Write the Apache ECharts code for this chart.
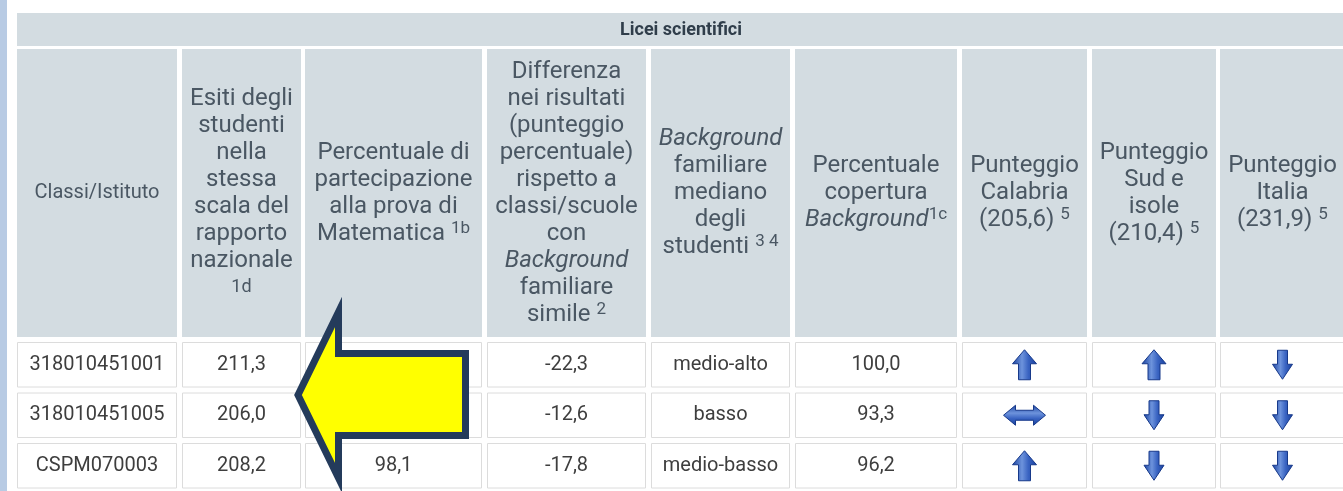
<!DOCTYPE html>
<html>
<head>
<meta charset="utf-8">
<script src="https://cdn.jsdelivr.net/npm/echarts@6/dist/echarts.min.js"></script>
<style>
  html, body { margin: 0; padding: 0; background: #fff; }
  #chart { width: 1343px; height: 491px; }
</style>
</head>
<body>
<div id="chart"></div>
<script>
// Tabella INVALSI: licei scientifici, prova di Matematica.
// Valori; le prime due percentuali di partecipazione
// sono coperte dalla freccia gialla e restano vuote.
const TITOLO = 'Licei scientifici';
const ISTITUTI = ['318010451001', '318010451005', 'CSPM070003'];
const ESITI = [211.3, 206.0, 208.2];
const PARTECIPAZIONE = [null, null, 98.1];
const DIFFERENZA = [-22.3, -12.6, -17.8];
const BACKGROUND = ['medio-alto', 'basso', 'medio-basso'];
const COPERTURA = [100.0, 93.3, 96.2];
// su = sopra, giu = sotto, pari = non significativa
const CALABRIA = ['su', 'pari', 'su'];
const SUD = ['su', 'giu', 'giu'];
const ITALIA = ['giu', 'giu', 'giu'];

const INTESTAZIONI = [
  '{c|Classi/Istituto}',
  'Esiti degli\nstudenti\nnella\nstessa\nscala del\nrapporto\nnazionale\n{n|1d}',
  'Percentuale di\npartecipazione\nalla prova di\nMatematica {s|1b}',
  'Differenza\nnei risultati\n(punteggio\npercentuale)\nrispetto a\nclassi/scuole\ncon\n{i|Background}\nfamiliare\nsimile {s|2}',
  '{i|Background}\nfamiliare\nmediano\ndegli\nstudenti {s|3 4}',
  'Percentuale\ncopertura\n{i|Background}{s|1c}',
  'Punteggio\nCalabria\n(205,6) {s|5}',
  'Punteggio\nSud e\nisole\n(210,4) {s|5}',
  'Punteggio\nItalia\n(231,9) {s|5}',
];

// ---- layout (pixel) ----------------------------------------------------
const COL_X = [[17, 177], [182, 301], [305, 482], [487, 646], [651, 790],
  [795, 957], [962, 1087], [1092, 1216], [1220, 1345]];
const FONT = 'Roboto, "Noto Sans", sans-serif';
const HEAD_BG = '#d3dce1';
const HEAD_INK = '#4a5763';
const BODY_INK = '#3e3e3e';

const fmt = (v) => (v == null ? '' : v.toFixed(1).replace('.', ','));

const COLONNE = [
  ISTITUTI,
  ESITI.map(fmt),
  PARTECIPAZIONE.map(fmt),
  DIFFERENZA.map(fmt),
  BACKGROUND,
  COPERTURA.map(fmt),
  CALABRIA,
  SUD,
  ITALIA,
];

const ICON_PATH = {
  su: 'M12 0 L24 14 L18 14 L18 30 L6 30 L6 14 L0 14 Z',
  giu: 'M5 0 L15 0 L15 14 L20 14 L10 29 L0 14 L5 14 Z',
  pari: 'M0 10 L12 0 L12 5 L30 5 L30 0 L42 10 L30 20 L30 15 L12 15 L12 20 Z',
};
const ICON_SIZE = { su: [24, 30], giu: [20, 29], pari: [42, 20] };

function icona(kind, cx, cy) {
  const [w, h] = ICON_SIZE[kind];
  const horiz = kind === 'pari';
  return {
    type: 'path',
    shape: { pathData: ICON_PATH[kind], x: cx - w / 2, y: cy - h / 2, width: w, height: h },
    style: {
      fill: {
        type: 'linear', x: 0, y: 0, x2: horiz ? 0 : 1, y2: horiz ? 1 : 0,
        colorStops: [
          { offset: 0, color: '#173f9c' },
          { offset: 0.4, color: '#6d93dc' },
          { offset: 0.65, color: '#3a64c2' },
          { offset: 1, color: '#173f9c' },
        ],
      },
      stroke: '#17398a',
      lineWidth: 1,
    },
  };
}

function renderCell(params, api) {
  const c = api.value(0);
  const r = api.value(1);
  const p0 = api.coord([COL_X[c][0], r]);
  const x0 = p0[0];
  const yc = p0[1];
  const x1 = api.coord([COL_X[c][1], r])[0];
  const band = api.size([0, 1])[1];
  const y0 = yc - band / 2 + 2.5;
  const ch = band - 5;
  const cx = (x0 + x1) / 2;
  const children = [{
    type: 'rect',
    shape: { x: x0 + 0.5, y: y0 + 0.5, width: x1 - x0 - 1, height: ch - 1 },
    style: { fill: '#fff', stroke: '#dcdcdc', lineWidth: 1 },
  }];
  const cell = COLONNE[c][r];
  if (c < 6) {
    children.push({
      type: 'text', x: cx, y: yc,
      style: { text: cell, fill: BODY_INK, fontSize: 20, fontFamily: FONT, align: 'center', verticalAlign: 'middle' },
    });
  } else {
    children.push(icona(cell, cx, yc));
  }
  return { type: 'group', children };
}

const cellData = [];
ISTITUTI.forEach((_, r) => COLONNE.forEach((__, c) => cellData.push([c, r])));

// intestazione: barra titolo + celle colonne
const graphic = [
  { type: 'rect', shape: { x: 0, y: 0, width: 7, height: 491 }, style: { fill: '#b8cbe4' } },
  { type: 'rect', shape: { x: 17, y: 13, width: 1330, height: 33 }, style: { fill: HEAD_BG } },
  {
    type: 'text', x: 681, y: 30,
    style: { text: TITOLO, fill: '#2f3d4a', fontSize: 18, fontWeight: 'bold', fontFamily: FONT, align: 'center', verticalAlign: 'middle' },
  },
];
const sup = { fontSize: 17, fontFamily: FONT, fill: HEAD_INK, lineHeight: 17, verticalAlign: 'top' };
INTESTAZIONI.forEach((t, c) => {
  const [a, b] = COL_X[c];
  graphic.push({ type: 'rect', shape: { x: a, y: 49, width: b - a, height: 288 }, style: { fill: HEAD_BG } });
  graphic.push({
    type: 'text', x: (a + b) / 2, y: 193,
    style: {
      text: t, fill: HEAD_INK, fontSize: 24, fontFamily: FONT, lineHeight: 27,
      align: 'center', verticalAlign: 'middle',
      rich: {
        i: { fontSize: 24, fontFamily: FONT, fontStyle: 'italic', fill: HEAD_INK, lineHeight: 27 },
        s: sup,
        n: { fontSize: 18, fontFamily: FONT, fill: HEAD_INK, lineHeight: 27 },
        c: { fontSize: 20, fontFamily: FONT, fill: HEAD_INK, lineHeight: 27 },
      },
    },
  });
});
// freccia gialla sovrapposta
graphic.push({
  type: 'polygon', z: 100,
  shape: { points: [[298, 395], [338.5, 312], [338.5, 353.5], [465.5, 353.5], [465.5, 435.5], [338.5, 435.5], [338.5, 478]] },
  style: { fill: '#ffff00', stroke: '#243b5b', lineWidth: 7, lineJoin: 'miter', miterLimit: 10 },
});

const chart = echarts.init(document.getElementById('chart'), null, { renderer: 'canvas' });
chart.setOption({
  animation: false,
  backgroundColor: '#fff',
  grid: { left: 0, right: 0, top: 339.5, height: 156 },
  xAxis: { type: 'value', min: 0, max: 1343, show: false },
  yAxis: { type: 'category', data: ISTITUTI, inverse: true, show: false },
  series: [{
    type: 'custom',
    renderItem: renderCell,
    data: cellData,
    clip: false,
  }],
  graphic,
});
</script>
</body>
</html>
